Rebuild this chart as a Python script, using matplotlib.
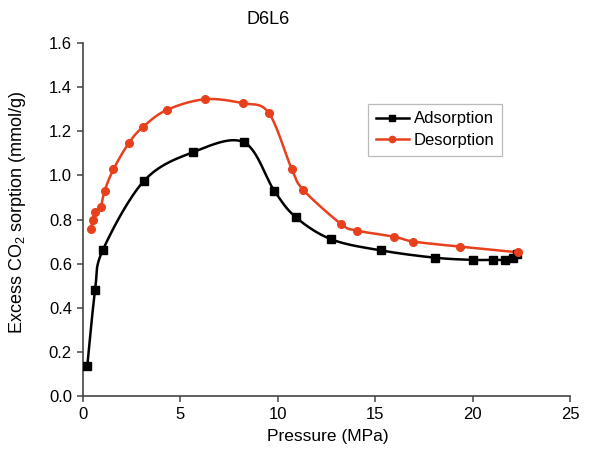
import numpy as np
import matplotlib
matplotlib.use("Agg")
import matplotlib.pyplot as plt

plt.rcParams['font.family'] = ['Liberation Sans', 'DejaVu Sans']
plt.rcParams['mathtext.fontset'] = 'custom'
plt.rcParams['mathtext.rm'] = 'Liberation Sans'
plt.rcParams['mathtext.it'] = 'Liberation Sans:italic'

title = "D6L6"
ads_p = [0.22, 0.62, 1.01, 3.13, 5.65, 8.26, 9.82, 10.93, 12.75, 15.28, 18.05, 20.0, 21.06, 21.68, 22.05, 22.3]
ads_q = [0.136, 0.48, 0.66, 0.975, 1.105, 1.15, 0.93, 0.81, 0.71, 0.66, 0.627, 0.617, 0.617, 0.617, 0.627, 0.645]
des_p = [0.39, 0.5, 0.62, 0.91, 1.11, 1.56, 2.34, 3.06, 4.29, 6.25, 8.2, 9.53, 10.71, 11.31, 13.24, 14.05, 15.97, 16.96, 19.35, 22.35]
des_q = [0.755, 0.80, 0.834, 0.858, 0.93, 1.027, 1.145, 1.218, 1.296, 1.345, 1.327, 1.284, 1.03, 0.934, 0.78, 0.75, 0.722, 0.70, 0.677, 0.651]

XMAX, YMAX = 25, 1.6
W, H = 487.0, 353.0  # axes size in px, for smoothing in screen space


def smooth(xs, ys, n=30):
    px = np.array(xs) / XMAX * W
    py = np.array(ys) / YMAX * H
    pts = np.column_stack([px, py])
    out = [pts[0]]
    for i in range(len(pts) - 1):
        p0 = pts[i - 1] if i > 0 else pts[i]
        p1 = pts[i]
        p2 = pts[i + 1]
        p3 = pts[i + 2] if i + 2 < len(pts) else pts[i + 1]
        c1 = p1 + (p2 - p0) / 6.0
        c2 = p2 - (p3 - p1) / 6.0
        t = np.linspace(0, 1, n)[1:, None]
        seg = ((1 - t) ** 3) * p1 + 3 * ((1 - t) ** 2) * t * c1 + 3 * (1 - t) * t ** 2 * c2 + t ** 3 * p2
        out.extend(seg)
    out = np.array(out)
    return out[:, 0] / W * XMAX, out[:, 1] / H * YMAX


fig = plt.figure(figsize=(5.9, 4.55), dpi=100)
ax = fig.add_axes([83 / 590, 59 / 455, 487 / 590, 353 / 455])

red = '#E8401C'
sx, sy = smooth(ads_p, ads_q)
ax.plot(sx, sy, color='black', lw=1.8, zorder=2)
ax.plot(ads_p, ads_q, 's', color='black', ms=6, zorder=3)
sx, sy = smooth(des_p, des_q)
ax.plot(sx, sy, color=red, lw=1.8, zorder=2)
ax.plot(des_p, des_q, 'o', color=red, ms=5.5, zorder=4)

ax.plot([], [], '-s', color='black', lw=1.8, ms=4.5, label='Adsorption')
ax.plot([], [], '-o', color=red, lw=1.8, ms=4.5, label='Desorption')

ax.set_xlim(0, XMAX)
ax.set_ylim(0, YMAX)
ax.set_xticks(np.arange(0, 26, 5))
ax.set_yticks(np.arange(0, 1.61, 0.2))
ax.set_yticklabels([f"{v:.1f}" for v in np.arange(0, 1.61, 0.2)])
for s in ['top', 'right']:
    ax.spines[s].set_visible(False)
for s in ['left', 'bottom']:
    ax.spines[s].set_color('#444444')
    ax.spines[s].set_linewidth(1.2)
ax.tick_params(direction='out', length=4, width=1.1, color='#444444', labelsize=12, pad=4)
ax.set_xlabel('Pressure (MPa)', fontsize=12.5)
ax.set_ylabel('Excess CO$_2$ sorption (mmol/g)', fontsize=13)
ax.yaxis.set_label_coords((18 - 83) / 487, (396 - 212) / 353)
ax.xaxis.set_label_coords(0.5 + (328 - 326.5) / 487, -(437 - 396) / 353)
ax.xaxis.label.set_va('center')
ax.yaxis.label.set_va('center')
fig.text(268 / 590, 1 - 20 / 455, title, ha='center', va='center', fontsize=13)

leg = ax.legend(loc='upper left', bbox_to_anchor=((368 - 83) / 487, (396 - 104) / 353),
                fontsize=12, frameon=True, fancybox=False, handlelength=2.0,
                borderpad=0.45, labelspacing=0.4, handletextpad=0.3, borderaxespad=0)
leg.get_frame().set_edgecolor('#aaaaaa')
leg.get_frame().set_linewidth(0.9)

fig.savefig('out.png', dpi=100)
